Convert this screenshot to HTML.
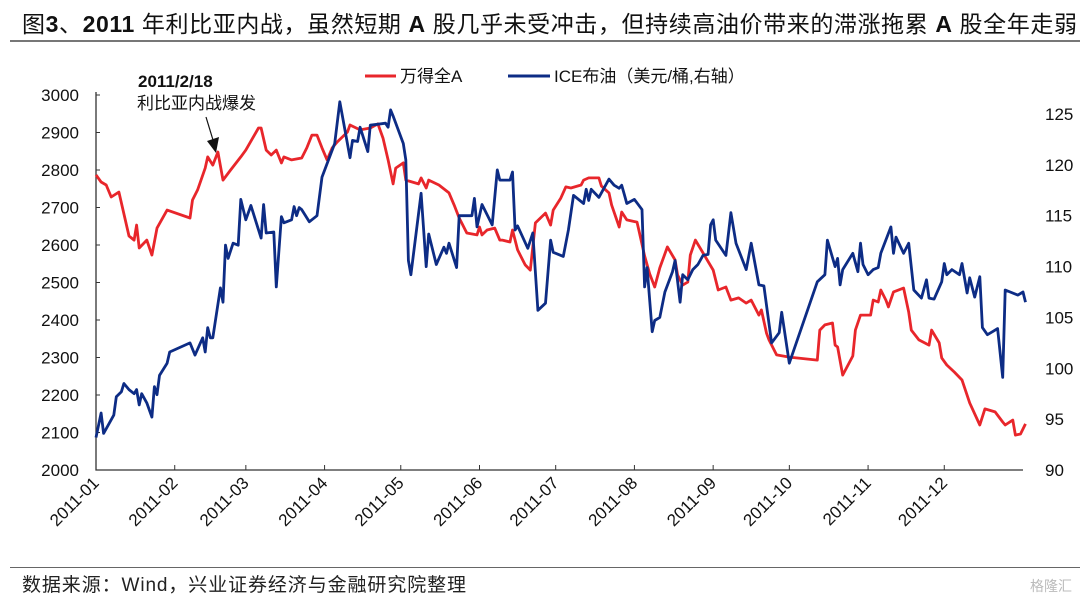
<!DOCTYPE html>
<html><head><meta charset="utf-8">
<style>
html,body{margin:0;padding:0;background:#fff;}
body{width:1080px;height:602px;overflow:hidden;position:relative;font-family:"Liberation Sans","Noto Sans CJK SC",sans-serif;}
#title{position:absolute;left:22px;top:5px;font-size:23px;color:#111;white-space:nowrap;letter-spacing:0.6px;}
#title b{font-weight:bold;}
#tline{position:absolute;left:10px;top:40px;width:1070px;height:2px;background:#777;}
#fline{position:absolute;left:10px;top:567px;width:1070px;height:1px;background:#666;}
#foot{position:absolute;left:22px;top:570px;font-size:19px;color:#222;white-space:nowrap;letter-spacing:0.9px;}
#logo{position:absolute;right:8px;top:576px;font-size:14px;color:#bbb;}
svg{position:absolute;left:0;top:0;}
</style></head><body>
<div id="title">图<b>3</b>、<b>2011</b> 年利比亚内战，虽然短期 <b>A</b> 股几乎未受冲击，但持续高油价带来的滞涨拖累 <b>A</b> 股全年走弱</div>
<div id="tline"></div>
<svg id="chart" width="1080" height="602"></svg>
<div id="fline"></div>
<div id="foot">数据来源：Wind，兴业证券经济与金融研究院整理</div>
<div id="logo">格隆汇</div>
<script>
const monthLabels=["2011-01","2011-02","2011-03","2011-04","2011-05","2011-06","2011-07","2011-08","2011-09","2011-10","2011-11","2011-12"];
const monthStartDays=[0,31,59,90,120,151,181,212,243,273,304,334];
const leftTicks=[2000,2100,2200,2300,2400,2500,2600,2700,2800,2900,3000];
const rightTicks=[90,95,100,105,110,115,120,125];
const windDays=[0,2,4,6,9,13,15,16,17,20,22,24,28,37,38,40,43,44,46,48,50,53,57,59,64,65,67,69,71,73,74,77,81,83,85,87,89,91,93,95,99,100,104,108,111,113,115,117,118,121,122,127,128,130,131,135,139,141,143,146,150,151,152,154,157,159,160,163,164,166,168,169,171,173,177,179,180,183,185,187,191,192,194,198,199,202,203,206,207,209,213,214,216,218,220,222,225,228,229,231,233,234,236,239,243,245,248,250,253,256,258,261,262,264,265,268,273,284,285,287,290,291,292,294,298,299,301,305,306,308,309,311,312,314,318,320,321,324,328,329,332,333,335,338,341,344,348,350,354,357,358,361,362,364,366];
const windValues=[2787,2768,2760,2728,2741,2624,2613,2653,2592,2613,2573,2645,2693,2672,2720,2747,2805,2835,2813,2848,2773,2800,2835,2853,2912,2912,2853,2840,2853,2819,2835,2827,2832,2859,2893,2893,2859,2827,2859,2875,2901,2920,2907,2912,2923,2885,2827,2763,2805,2819,2773,2763,2779,2752,2773,2760,2739,2707,2672,2632,2627,2648,2627,2640,2645,2613,2613,2608,2640,2587,2560,2547,2533,2659,2685,2653,2693,2725,2755,2752,2760,2773,2779,2779,2757,2739,2707,2648,2688,2667,2661,2632,2571,2523,2488,2539,2595,2560,2520,2493,2501,2573,2613,2579,2533,2480,2488,2453,2459,2445,2453,2413,2427,2365,2347,2307,2301,2293,2373,2387,2392,2333,2328,2253,2304,2373,2413,2413,2453,2448,2480,2453,2435,2475,2485,2421,2373,2347,2333,2373,2339,2299,2280,2261,2240,2179,2120,2163,2155,2128,2120,2133,2093,2096,2123];
const oilDays=[0,2,3,7,8,10,11,13,15,16,17,18,20,22,23,24,25,28,29,37,39,42,43,44,45,46,49,50,51,52,54,56,57,59,61,63,65,66,67,70,71,73,74,77,78,79,80,81,84,87,89,94,96,100,101,103,104,107,108,114,115,116,117,121,122,123,124,128,130,131,134,137,138,139,142,143,148,149,150,152,156,158,159,163,164,165,166,170,172,174,177,179,180,184,186,188,192,193,194,195,198,202,204,206,207,208,209,212,215,216,217,219,220,222,224,227,228,230,231,233,235,237,239,241,242,243,244,248,250,252,256,258,261,263,266,269,270,273,284,287,288,291,292,293,294,298,300,301,302,304,306,308,309,313,314,315,318,320,322,325,327,328,330,333,334,335,337,340,341,343,344,346,348,349,351,353,355,357,358,363,365,366];
const oilValues=[93.2,95.6,93.6,95.4,97.2,97.7,98.5,97.9,97.5,97.9,96.4,97.5,96.6,95.2,98.2,97.4,99.3,100.5,101.6,102.5,101.3,103.0,101.6,104.0,103.0,103.0,107.9,106.5,112.1,110.8,112.3,112.1,116.6,114.6,116.0,114.4,112.8,116.1,113.3,113.4,108.0,114.9,114.3,114.6,115.9,115.0,115.8,115.6,114.4,115.0,118.8,122.1,126.2,120.7,122.4,122.3,123.7,121.3,123.9,124.1,123.7,125.4,124.8,122.1,120.5,110.6,109.2,117.2,110.0,113.2,110.2,111.9,111.3,112.3,109.9,115.0,115.0,116.7,113.9,116.1,114.1,119.5,118.5,118.5,119.3,113.6,114.0,111.8,113.3,105.7,106.4,112.6,111.4,111.0,113.6,117.0,116.2,117.6,116.5,117.6,116.8,118.6,118.0,117.7,118.0,117.1,116.2,116.6,115.6,108.0,109.9,103.6,104.7,105.0,107.5,109.5,110.6,106.5,109.2,108.7,109.7,110.2,111.1,111.2,114.1,114.6,112.6,111.1,115.3,112.3,109.7,112.3,108.2,108.1,102.5,103.5,105.5,100.5,108.5,109.2,112.6,110.0,110.8,108.2,109.7,111.3,109.5,112.3,110.2,109.2,109.7,109.9,111.3,113.9,111.3,112.9,111.3,112.3,107.7,106.9,108.7,106.9,106.8,108.5,110.3,109.2,109.7,109.2,110.3,107.4,108.9,107.0,109.0,104.0,103.3,103.6,103.9,99.1,107.7,107.2,107.5,106.5];

const NS="http://www.w3.org/2000/svg";
const svg=document.getElementById('chart');
const X0=96,X1=1023,YB=470,YT=95;
const xS=d=>X0+(X1-X0)*d/365;
const yL=v=>YB-(v-2000)/(3000-2000)*(YB-YT);
const yR=v=>YB-(v-90)/(125-90)*(YB-114);
function mk(t,a){const e=document.createElementNS(NS,t);for(const k in a)e.setAttribute(k,a[k]);svg.appendChild(e);return e;}
const FONT='"Liberation Sans","Noto Sans CJK SC",sans-serif';

let ax=mk('path',{d:`M${X0} ${YT-3}V${YB}H${X1}`,stroke:'#333','stroke-width':1.3,fill:'none'});



leftTicks.forEach(v=>{
  const y=yL(v);
  const t=mk('line',{x1:X0,x2:X0+4,y1:y,y2:y,stroke:'#333','stroke-width':1});
  
  
  const l=mk('text',{x:X0-17,y:y+6,'text-anchor':'end','font-size':17,'font-family':FONT,fill:'#111'});
  l.textContent=v;
  
  
});
rightTicks.forEach(v=>{
  const y=yR(v);
  const l=mk('text',{x:1045,y:y+6,'text-anchor':'start','font-size':17,'font-family':FONT,fill:'#111'});
  l.textContent=v;
  
  
});
monthStartDays.forEach((d,i)=>{
  const x=xS(d);
  if(i>0){const t=mk('line',{x1:x,x2:x,y1:YB,y2:YB-5,stroke:'#333','stroke-width':1});
  
  }
  const l=mk('text',{x:x+4,y:YB+14,'text-anchor':'end','font-size':17,'font-family':FONT,fill:'#111',transform:`rotate(-45 ${x+4} ${YB+14})`});
  l.textContent=monthLabels[i];
  
  
});

const pr=windDays.map((d,i)=>xS(d).toFixed(1)+','+yL(windValues[i]).toFixed(1)).join(' ');
const lr=mk('polyline',{points:pr,fill:'none',stroke:'#e8262b','stroke-width':2.8,'stroke-linejoin':'round'});


const pb=oilDays.map((d,i)=>xS(d).toFixed(1)+','+yR(oilValues[i]).toFixed(1)).join(' ');
const lb=mk('polyline',{points:pb,fill:'none',stroke:'#0d2c85','stroke-width':2.8,'stroke-linejoin':'round'});



// legend
let g1=mk('line',{x1:365,x2:396,y1:76,y2:76,stroke:'#e8262b','stroke-width':3});


let t1=mk('text',{x:400,y:82,'font-size':17,'font-family':FONT,fill:'#111'});t1.textContent='万得全A';


let g2=mk('line',{x1:508,x2:550,y1:76,y2:76,stroke:'#0d2c85','stroke-width':3});


let t2=mk('text',{x:554,y:82,'font-size':17,'font-family':FONT,fill:'#111'});t2.textContent='ICE布油（美元/桶,右轴）';



// annotation
let a1=mk('text',{x:138,y:87,'font-size':17,'font-weight':'bold','font-family':FONT,fill:'#111'});a1.textContent='2011/2/18';


let a2=mk('text',{x:137,y:109,'font-size':17,'font-family':FONT,fill:'#111'});a2.textContent='利比亚内战爆发';


let ar=mk('line',{x1:206,y1:117,x2:213,y2:140,stroke:'#111','stroke-width':1.2});


let ah=mk('polygon',{points:'207,141 219,137 216,153',fill:'#111'});


</script>
</body></html>
